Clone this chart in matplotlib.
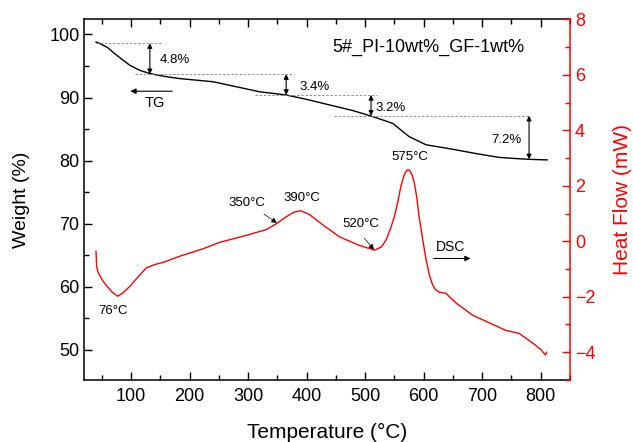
import matplotlib.pyplot as plt
import numpy as np
from matplotlib.ticker import MultipleLocator

plt.rcParams['font.family'] = ['Liberation Sans', 'DejaVu Sans']

# TG curve (weight %)
tg_temp = [40, 48, 60, 70, 85, 98, 115, 132, 160, 183, 240, 280, 320, 365,
           400, 440, 480, 512, 547, 575, 604, 630, 649, 690, 729, 760, 780, 811]
tg_weight = [98.8, 98.5, 97.9, 97.1, 96.0, 95.1, 94.3, 93.8, 93.3, 93.0, 92.5, 91.7, 90.9, 90.4,
             89.7, 88.8, 87.9, 87.0, 85.9, 83.8, 82.5, 82.1, 81.8, 81.1, 80.5, 80.3, 80.2, 80.1]

# DSC curve (heat flow mW)
dsc_temp = [40, 41, 44, 52, 58, 67, 77, 85, 98, 112, 126, 140, 155, 183, 223, 251, 291, 331, 348,
            365, 378, 390, 405, 427, 456, 490, 516, 528, 536, 544, 550, 556, 561, 566, 570, 573,
            576, 580, 584, 588, 592, 598, 604, 610, 615, 620, 626, 638, 655, 683, 712, 740, 763,
            785, 800, 808, 810]
dsc_heat = [-0.36, -0.9, -1.14, -1.44, -1.6, -1.82, -1.98, -1.88, -1.62, -1.28, -0.96, -0.84, -0.76,
            -0.54, -0.27, -0.04, 0.18, 0.42, 0.63, 0.88, 1.05, 1.1, 0.96, 0.6, 0.16, -0.15, -0.32,
            -0.2, 0.06, 0.5, 0.9, 1.45, 1.98, 2.35, 2.53, 2.58, 2.55, 2.4, 2.1, 1.6, 0.9, 0.1, -0.66,
            -1.25, -1.56, -1.74, -1.83, -1.88, -2.22, -2.66, -2.94, -3.21, -3.32, -3.65, -3.9, -4.1,
            -4.0]

# weight-loss steps
dash_levels = [98.6, 93.7, 90.4, 87.1]
dash_start = [40, 106, 311, 447]
dash_end = [152, 379, 520, 780]
step_temps = [132, 365, 510, 780]
step_top = [98.6, 93.7, 90.4, 87.1]
step_bottom = [93.7, 90.4, 87.1, 80.2]
step_labels = ['4.8%', '3.4%', '3.2%', '7.2%']
step_label_x = [175, 413, 544, 741]
step_label_y = [95.9, 91.65, 88.3, 83.3]

# DSC peak labels
peak_labels = ['76°C', '350°C', '390°C', '520°C', '575°C']
peak_label_x = [69, 297, 391, 493, 577]
peak_label_y = [-2.52, 1.37, 1.55, 0.64, 3.04]

fig = plt.figure(figsize=(6.33, 4.42), dpi=100)
ax = fig.add_axes([0.1332, 0.1403, 0.7673, 0.816])
ax2 = ax.twinx()

ax.plot(tg_temp, tg_weight, color='black', lw=1.0)
ax2.plot(dsc_temp, dsc_heat, color='red', lw=1.0)

ax.set_xlim(20, 850)
ax.set_ylim(45.2, 102.4)
ax2.set_ylim(-5, 8)

for lev, a, b in zip(dash_levels, dash_start, dash_end):
    ax.hlines(lev, a, b, colors='gray', linestyles=(0, (3, 2)), lw=0.6)
for t, top, bot in zip(step_temps, step_top, step_bottom):
    ax.annotate('', xy=(t, bot), xytext=(t, top),
                arrowprops=dict(arrowstyle='<|-|>', color='black', lw=0.8,
                                mutation_scale=7, shrinkA=0, shrinkB=0))
for s, x, y in zip(step_labels, step_label_x, step_label_y):
    ax.text(x, y, s, fontsize=9.5, ha='center', va='center')

ax.text(608, 97.9, '5#_PI-10wt%_GF-1wt%', fontsize=13, ha='center', va='center')

# TG label and arrow
ax.annotate('', xy=(94, 91.0), xytext=(175, 91.0),
            arrowprops=dict(arrowstyle='-|>', color='black', lw=0.8, mutation_scale=8))
ax.text(141, 89.1, 'TG', fontsize=10.5, ha='center', va='center')

# DSC labels and arrows
for s, x, y in zip(peak_labels, peak_label_x, peak_label_y):
    ax2.text(x, y, s, fontsize=9.5, ha='center', va='center')
ax2.annotate('', xy=(349, 0.66), xytext=(327, 0.98),
             arrowprops=dict(arrowstyle='-|>', color='black', lw=0.5, mutation_scale=8,
                             shrinkA=0, shrinkB=0))
ax2.annotate('', xy=(515, -0.3), xytext=(498, 0.12),
             arrowprops=dict(arrowstyle='-|>', color='black', lw=0.5, mutation_scale=8,
                             shrinkA=0, shrinkB=0))
ax2.annotate('', xy=(680, -0.62), xytext=(617, -0.62),
             arrowprops=dict(arrowstyle='-|>', color='black', lw=0.8, mutation_scale=8,
                             shrinkA=0, shrinkB=0))
ax2.text(646, -0.22, 'DSC', fontsize=10, ha='center', va='center')

# axes styling
ax.xaxis.set_major_locator(MultipleLocator(100))
ax.xaxis.set_minor_locator(MultipleLocator(50))
ax.yaxis.set_major_locator(MultipleLocator(10))
ax.yaxis.set_minor_locator(MultipleLocator(5))
ax2.yaxis.set_major_locator(MultipleLocator(2))
ax2.yaxis.set_minor_locator(MultipleLocator(1))

ax.tick_params(which='both', direction='in', top=True, right=False, labelsize=13)
ax.tick_params(axis='x', pad=6)
ax.tick_params(which='major', length=6, width=1)
ax.tick_params(which='minor', length=3.5, width=1)
ax2.tick_params(which='both', direction='in', colors='red', labelsize=13)
ax2.tick_params(which='major', length=6, width=1)
ax2.tick_params(which='minor', length=3.5, width=1)

for side in ['left', 'top', 'bottom']:
    ax.spines[side].set_linewidth(1.1)
    ax2.spines[side].set_visible(False)
ax.spines['right'].set_visible(False)
ax2.spines['right'].set_color('red')
ax2.spines['right'].set_linewidth(1.1)

ax.set_xlabel('Temperature (°C)', fontsize=15, labelpad=13)
ax.set_ylabel('Weight (%)', fontsize=14, labelpad=14)
ax2.set_ylabel('Heat Flow (mW)', fontsize=15, color='red', labelpad=13)

fig.savefig('out.png', dpi=100)
